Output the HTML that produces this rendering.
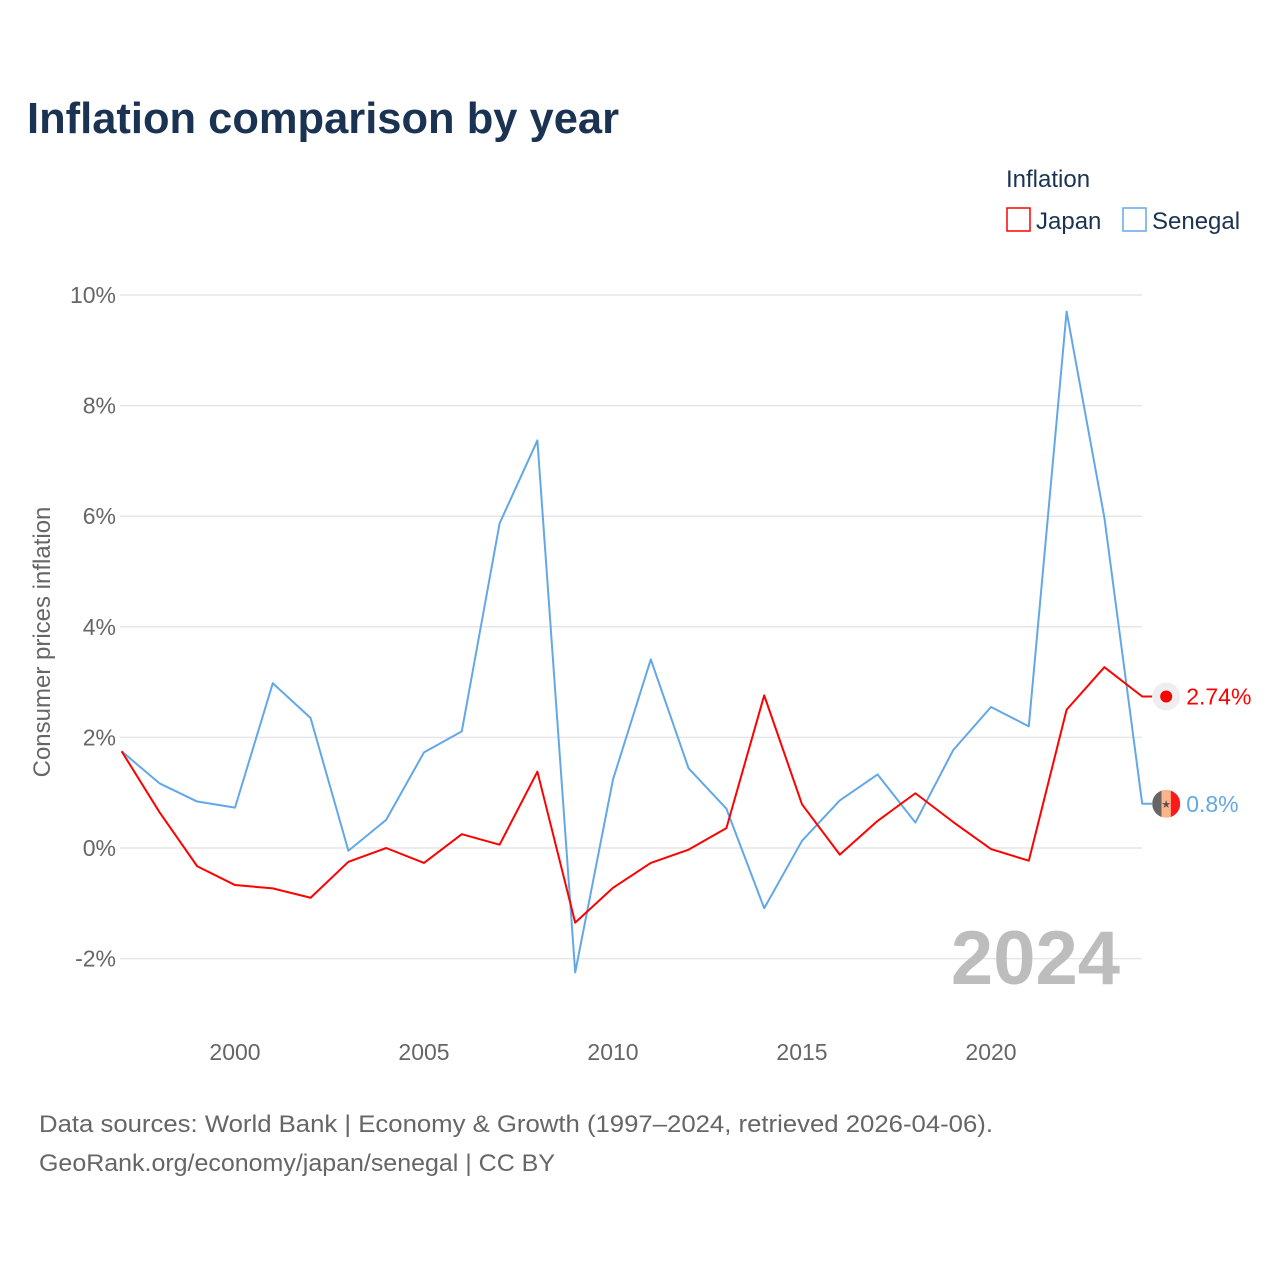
<!DOCTYPE html>
<html><head><meta charset="utf-8"><style>
body{margin:0;background:#fff;font-family:"Liberation Sans",sans-serif}
svg text{font-family:"Liberation Sans",sans-serif}
</style></head><body>
<svg id="chart" width="1280" height="1280" xmlns="http://www.w3.org/2000/svg">
<text x="27" y="133" font-size="44" font-weight="bold" fill="#1b3352" textLength="592" lengthAdjust="spacingAndGlyphs">Inflation comparison by year</text>
<text x="1006" y="187" font-size="24" fill="#1b3352">Inflation</text>
<g><rect x="1007" y="208" width="23" height="23" fill="none" stroke="#ff0000" stroke-width="1.5"/><text x="1036" y="229" font-size="24" fill="#1b3352">Japan</text></g>
<g><rect x="1123" y="208" width="23" height="23" fill="none" stroke="#62a8e8" stroke-width="1.5"/><text x="1152" y="229" font-size="24" fill="#1b3352">Senegal</text></g>
<g id="grid"></g>
<g id="yticks"></g>
<g id="xticks"></g>
<text transform="translate(50,642) rotate(-90)" text-anchor="middle" font-size="24" fill="#666">Consumer prices inflation</text>
<text x="1120" y="984" text-anchor="end" font-size="76" font-weight="bold" fill="#bdbdbd">2024</text>
<g id="series"></g>
<text x="39" y="1132" font-size="24" fill="#666" textLength="954" lengthAdjust="spacingAndGlyphs">Data sources: World Bank | Economy &amp; Growth (1997–2024, retrieved 2026-04-06).</text>
<text x="39" y="1171" font-size="24" fill="#666" textLength="516" lengthAdjust="spacingAndGlyphs">GeoRank.org/economy/japan/senegal | CC BY</text>
</svg>
<script>
const years=[1997,1998,1999,2000,2001,2002,2003,2004,2005,2006,2007,2008,2009,2010,2011,2012,2013,2014,2015,2016,2017,2018,2019,2020,2021,2022,2023,2024];
const japan=[1.75,0.65,-0.33,-0.67,-0.73,-0.9,-0.25,0,-0.27,0.25,0.06,1.38,-1.35,-0.72,-0.27,-0.03,0.36,2.76,0.79,-0.12,0.49,0.99,0.47,-0.02,-0.23,2.5,3.27,2.74];
const senegal=[1.75,1.17,0.84,0.73,2.98,2.35,-0.05,0.51,1.73,2.11,5.87,7.37,-2.25,1.24,3.41,1.44,0.71,-1.09,0.13,0.86,1.33,0.46,1.77,2.55,2.2,9.7,5.97,0.8];
const yTicks=[-2,0,2,4,6,8,10];
const yTickLabels=["-2%","0%","2%","4%","6%","8%","10%"];
const xTicks=[2000,2005,2010,2015,2020];
const NS="http://www.w3.org/2000/svg";
const X=v=>121.6+(v-1997)*37.8;
const Y=v=>848-v*55.3;
function mk(t,a,p){const e=document.createElementNS(NS,t);for(const k in a)e.setAttribute(k,a[k]);p.appendChild(e);return e;}
const grid=document.getElementById('grid'),yt=document.getElementById('yticks'),xt=document.getElementById('xticks'),ser=document.getElementById('series');
yTicks.forEach((v,i)=>{
 const l=mk('line',{x1:120,x2:1142,y1:Y(v),y2:Y(v),stroke:'#e6e6e6','stroke-width':1.5},grid);
 
 
 const t=mk('text',{x:116,y:Y(v)+8,'text-anchor':'end','font-size':23,fill:'#666'},yt);
 t.textContent=yTickLabels[i];
 
 
});
xTicks.forEach(v=>{
 const t=mk('text',{x:X(v),y:1060,'text-anchor':'middle','font-size':23,fill:'#666'},xt);
 t.textContent=v;
 
 
});
function line(vals,color,name){
 const pts=vals.map((v,i)=>X(years[i])+','+Y(v));
 const last=vals[vals.length-1];
 pts.push((X(years[years.length-1])+10)+','+Y(last));
 const p=mk('polyline',{points:pts.join(' '),fill:'none',stroke:color,'stroke-width':2,'stroke-linejoin':'round'},ser);
 
 
}
line(senegal,'#62a8e8','senegal');
line(japan,'#ff0000','japan');
const jl=japan[japan.length-1],sl=senegal[senegal.length-1],lx=X(2024)+24;
const jm=mk('g',{},ser);


mk('circle',{cx:lx,cy:Y(jl),r:14,fill:'#eee'},jm);
mk('circle',{cx:lx,cy:Y(jl),r:6,fill:'#ff0000'},jm);
const jt=mk('text',{x:lx+20,y:Y(jl)+8,'font-size':23,fill:'#ff0000'},jm);jt.textContent=jl+'%';
const sm=mk('g',{},ser);


const sy=Y(sl);
mk('clipPath',{id:'fc'},sm);
mk('circle',{cx:lx,cy:sy,r:14},document.getElementById('fc'));
const fg=mk('g',{'clip-path':'url(#fc)'},sm);
mk('rect',{x:lx-14,y:sy-14,width:9.3,height:28,fill:'#666'},fg);
mk('rect',{x:lx-4.7,y:sy-14,width:9.3,height:28,fill:'#ffb38a'},fg);
mk('rect',{x:lx+4.6,y:sy-14,width:9.4,height:28,fill:'#ff1a1a'},fg);
const st=mk('text',{x:lx,y:sy+4,'text-anchor':'middle','font-size':11,fill:'#555'},sm);st.textContent='★';
const stt=mk('text',{x:lx+20,y:sy+8,'font-size':23,fill:'#62a8e8'},sm);stt.textContent=sl+'%';
</script>
</body></html>
